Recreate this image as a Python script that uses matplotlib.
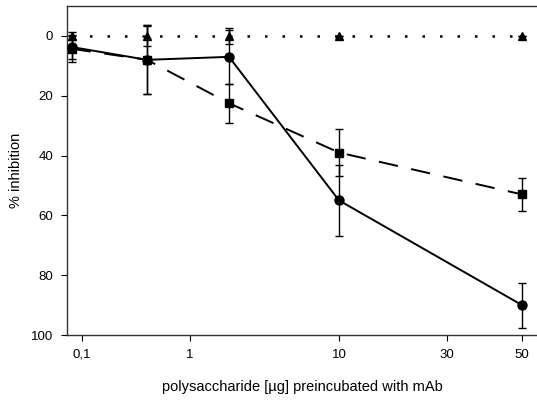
import numpy as np
import matplotlib
matplotlib.use("Agg")
import matplotlib.pyplot as plt

plt.rcParams['font.family'] = ['Liberation Sans', 'DejaVu Sans']

# amount of polysaccharide (ug), 5-fold dilutions
dose = [0.08, 0.4, 2, 10, 50]

circle_y = [3.7, 8, 7, 55, 90]
circle_err = [4, 11.5, 9, 12, 7.5]

square_y = [4.3, 8, 22.5, 39, 53]
square_err = [4.3, 11.5, 6.5, 8, 5.5]

triangle_y = [0, 0, 0, 0, 0]
triangle_err = [1.3, 3.4, 2.8, 0, 0]

xtick_vals = [0.1, 1, 10, 30, 50]
xtick_labels = ['0,1', '1', '10', '30', '50']
ytick_vals = [0, 20, 40, 60, 80, 100]

# the original x axis is not a clean log axis: piecewise log scale through knots
knot_log = np.log10([0.01, 0.1, 1, 2, 10, 30, 50, 100])
knot_pos = np.array([-26, 82, 190, 229, 339, 447, 522, 624], dtype=float)


def fwd(x):
    x = np.clip(np.asarray(x, dtype=float), 1e-3, None)
    return np.interp(np.log10(x), knot_log, knot_pos)


def inv(p):
    return 10 ** np.interp(np.asarray(p, dtype=float), knot_pos, knot_log)


fig = plt.figure(figsize=(5.37, 4.0), dpi=100)
ax = fig.add_axes([67 / 537, 65 / 400, 470 / 537, 329 / 400])
ax.set_xscale('function', functions=(fwd, inv))

ekw = dict(ecolor='black', elinewidth=1.0, capsize=3, capthick=1.0)

ax.errorbar(dose, triangle_y, yerr=triangle_err, color='black', ls=(0, (1, 6)), lw=1.8,
            marker='^', ms=6, zorder=3, **ekw)
ax.errorbar(dose, square_y, yerr=square_err, color='black', ls=(0, (10, 7)), lw=1.4,
            marker='s', ms=6, zorder=3, **ekw)
ax.errorbar(dose, circle_y, yerr=circle_err, color='black', ls='-', lw=1.4,
            marker='o', ms=6.5, zorder=3, **ekw)

ax.set_xlim(inv(67), inv(537))
ax.set_ylim(100, -10)
ax.set_xticks(xtick_vals)
ax.set_xticklabels(xtick_labels)
ax.xaxis.set_minor_locator(matplotlib.ticker.NullLocator())
ax.set_yticks(ytick_vals)

ax.spines['right'].set_visible(False)
for s in ['left', 'bottom', 'top']:
    ax.spines[s].set_linewidth(1.0)
    ax.spines[s].set_color('#333333')

ax.tick_params(direction='out', length=4, width=0.8, labelsize=9.5, pad=6)

ax.set_ylabel('% inhibition', fontsize=10.5, labelpad=6)
ax.set_xlabel('polysaccharide [\u00b5g] preincubated with mAb', fontsize=10.5, labelpad=14)

fig.savefig('out.png', dpi=100)
